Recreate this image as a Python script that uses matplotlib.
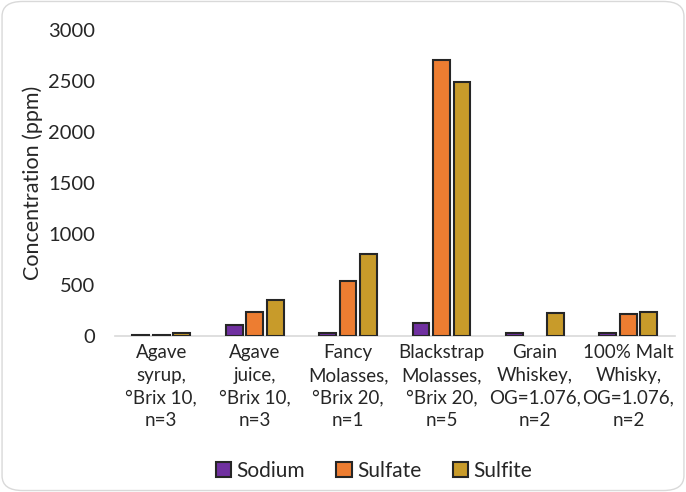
import matplotlib
matplotlib.use("Agg")
import matplotlib.pyplot as plt
from matplotlib.patches import FancyBboxPatch
import numpy as np

plt.rcParams['font.family'] = ['Lato', 'DejaVu Sans']

categories = ["Agave\nsyrup,\n°Brix 10,\nn=3", "Agave\njuice,\n°Brix 10,\nn=3",
              "Fancy\nMolasses,\n°Brix 20,\nn=1", "Blackstrap\nMolasses,\n°Brix 20,\nn=5",
              "Grain\nWhiskey,\nOG=1.076,\nn=2", "100% Malt\nWhisky,\nOG=1.076,\nn=2"]
sodium = [8, 105, 30, 125, 30, 30]
sulfate = [15, 235, 540, 2710, np.nan, 220]
sulfite = [30, 350, 800, 2490, 225, 240]
series_names = ["Sodium", "Sulfate", "Sulfite"]
colors = ["#7030A0", "#ED7D31", "#C89B2A"]
yticks = [0, 500, 1000, 1500, 2000, 2500, 3000]

fig = plt.figure(figsize=(6.86, 4.92), dpi=100)
ax = fig.add_axes([0.167, 0.317, 0.817, 0.622])

x = np.arange(len(categories))
w = 0.18
step = 0.22
for i, (vals, name, c) in enumerate(zip([sodium, sulfate, sulfite], series_names, colors)):
    ax.bar(x + (i - 1) * step, vals, width=w, color=c, edgecolor="#262626",
           linewidth=1.5, label=name, zorder=3)

ax.set_xlim(-0.5, len(categories) - 0.5)
ax.set_ylim(0, 3000)
ax.set_yticks(yticks)
ax.set_yticklabels([str(v) for v in yticks], fontsize=14.5, color="#262626")
ax.set_xticks(x)
ax.set_xticklabels(categories, fontsize=13.5, color="#262626", linespacing=1.4)
ax.tick_params(axis='y', length=0, pad=14)
ax.tick_params(axis='x', length=0, pad=6)
for s in ['top', 'right', 'left']:
    ax.spines[s].set_visible(False)
ax.spines['bottom'].set_color("#D9D9D9")
ax.spines['bottom'].set_linewidth(1.2)
ax.set_ylabel("Concentration (ppm)", fontsize=15.5, color="#262626", labelpad=4)

leg = fig.legend(loc='lower center', bbox_to_anchor=(0.545, -0.015), ncol=3, frameon=False,
                 fontsize=15, handlelength=0.75, handleheight=0.75, columnspacing=1.5,
                 handletextpad=0.25)
for t in leg.get_texts():
    t.set_color("#262626")

border = FancyBboxPatch((0.003, 0.003), 0.994, 0.994, boxstyle="round,pad=0,rounding_size=0.03",
                        transform=fig.transFigure, fill=False, edgecolor="#D9D9D9", linewidth=1)
fig.patches.append(border)

fig.savefig("out.png", dpi=100)
